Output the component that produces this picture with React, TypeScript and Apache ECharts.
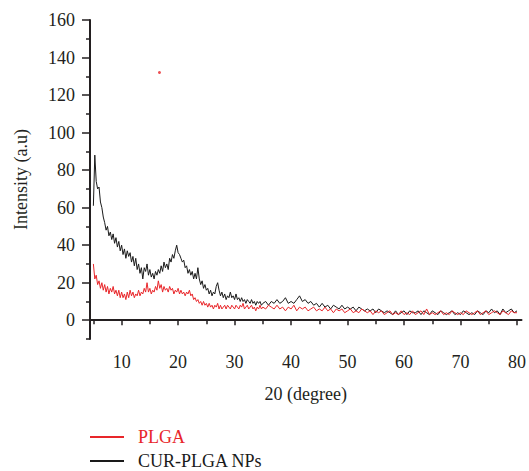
import React, { useEffect, useRef } from "react";
import * as echarts from "echarts";

// 2θ sampling: fine grid 5–35 (step 0.25), coarse grid 35.5–80 (step 0.5)
const startA = 5;
const stepA = 0.25;
const startB = 35.5;
const stepB = 0.5;

const curA = [
  61, 88, 74, 70, 71, 63, 60, 55, 52, 48, 50, 45, 47, 43, 46, 41, 44, 39, 42, 37,
  40, 35, 38, 33, 37, 34, 36, 31, 34, 29, 33, 27, 30, 25, 28, 22, 28, 26, 30, 24,
  27, 23, 25, 22, 26, 24, 27, 25, 29, 26, 31, 28, 30, 27, 33, 31, 35, 33, 37, 40,
  36, 35, 33, 31, 32, 28, 29, 25, 27, 24, 26, 22, 25, 22, 28, 22, 19, 21, 17, 19,
  16, 17, 14, 16, 13, 15, 14, 18, 20, 16, 13, 15, 12, 14, 11, 13, 12, 15, 12, 13,
  11, 14, 11, 12, 10, 12, 10, 11, 9, 11, 10, 9, 11, 9, 10, 8, 10, 9, 10, 8,
  9,
];
const curB = [
  10, 8, 10, 9, 11, 9, 10, 12, 9, 10,
  9, 11, 13, 10, 11, 9, 10, 8, 9, 7,
  9, 7, 8, 6, 8, 7, 6, 8, 6, 7,
  6, 7, 5, 7, 6, 5, 6, 5, 6, 4,
  6, 5, 4, 5, 4, 3, 5, 3, 4, 5,
  3, 5, 4, 4, 5, 3, 5, 4, 3, 5,
  4, 3, 5, 4, 3, 4, 5, 3, 4, 3,
  5, 4, 3, 4, 3, 5, 4, 3, 5, 4,
  6, 4, 5, 3, 6, 4, 5, 6, 4, 5,
];
const plgaA = [
  30, 22, 24, 19, 21, 17, 20, 16, 19, 15, 18, 14, 17, 15, 18, 14, 16, 13, 16, 12,
  15, 12, 14, 11, 15, 12, 16, 13, 15, 12, 14, 13, 16, 13, 15, 14, 17, 15, 20, 15,
  17, 14, 16, 15, 18, 16, 21, 17, 19, 15, 18, 16, 17, 15, 18, 16, 17, 14, 16, 15,
  17, 14, 16, 14, 15, 13, 15, 14, 16, 13, 14, 11, 12, 10, 11, 9, 10, 8, 10, 8,
  9, 7, 9, 7, 8, 6, 8, 7, 9, 6, 8, 6, 7, 8, 6, 8, 7, 6, 8, 7,
  6, 8, 7, 6, 8, 7, 9, 6, 7, 8, 6, 7, 8, 6, 7, 5, 7, 6, 8, 6,
  7,
];
const plgaB = [
  6, 8, 7, 6, 8, 6, 7, 5, 7, 6,
  8, 5, 7, 6, 7, 5, 6, 7, 5, 6,
  5, 7, 5, 6, 4, 6, 5, 6, 4, 5,
  6, 4, 5, 4, 6, 5, 4, 5, 3, 5,
  4, 5, 3, 4, 5, 3, 4, 3, 5, 3,
  4, 3, 5, 3, 4, 5, 3, 6, 3, 4,
  3, 4, 5, 3, 4, 3, 5, 4, 3, 4,
  3, 5, 4, 3, 4, 5, 3, 4, 5, 3,
  4, 5, 4, 3, 5, 4, 3, 5, 4, 4,
];
const strayPoint = [[16.7, 132]];

const xMajor = [10, 20, 30, 40, 50, 60, 70, 80];
const xMinor = [5, 15, 25, 35, 45, 55, 65, 75];
const yMajor = [0, 20, 40, 60, 80, 100, 120, 140, 160];
const yMinor = [-10, 10, 30, 50, 70, 90, 110, 130, 150];

const RED = "#e8262a";
const BLACK = "#1a1a1a";
const AXIS = "#231f20";
const FONT = "'Liberation Serif', 'Times New Roman', serif";

function toPairs(a: number[], b: number[]) {
  return [
    ...a.map((v, i) => [startA + i * stepA, v]),
    ...b.map((v, i) => [startB + i * stepB, v]),
  ];
}

function legendFor(name: string, color: string, top: number) {
  return {
    orient: "horizontal",
    left: 85,
    top,
    icon: "rect",
    itemWidth: 34,
    itemHeight: 2,
    selectedMode: false,
    textStyle: { fontFamily: FONT, fontSize: 18, color, padding: [0, 0, 0, 9] },
    data: [{ name }],
  };
}

export default function App() {
  const ref = useRef<HTMLDivElement>(null);
  useEffect(() => {
    if (!ref.current) return;
    const chart = echarts.init(ref.current, null, { renderer: "svg" });
    const axisLine = { show: true, lineStyle: { color: AXIS, width: 2 } };
    chart.setOption({
      animation: false,
      backgroundColor: "#ffffff",
      textStyle: { fontFamily: FONT },
      grid: { left: 90, right: 6, top: 20, bottom: 132, containLabel: false },
      legend: [legendFor("PLGA", RED, 423), legendFor("CUR-PLGA NPs", BLACK, 447)],
      xAxis: [
        {
          type: "value",
          min: 4.4,
          max: 80.8,
          name: "20 (degree)",
          nameLocation: "middle",
          nameGap: 46,
          nameTextStyle: { fontFamily: FONT, fontSize: 18, color: AXIS },
          axisLine,
          axisTick: { show: true, customValues: xMajor, length: 5, lineStyle: { color: AXIS, width: 1.5 } },
          axisLabel: { customValues: xMajor, margin: 14, fontFamily: FONT, fontSize: 18, color: AXIS },
          splitLine: { show: false },
        },
        {
          type: "value",
          min: 4.4,
          max: 80.8,
          position: "bottom",
          axisLine: { show: false },
          axisTick: { show: true, customValues: xMinor, length: 4, lineStyle: { color: AXIS, width: 1.5 } },
          axisLabel: { show: false },
          splitLine: { show: false },
        },
      ],
      yAxis: [
        {
          type: "value",
          min: -10,
          max: 160,
          name: "Intensity (a.u)",
          nameLocation: "middle",
          nameGap: 60,
          nameTextStyle: { fontFamily: FONT, fontSize: 18, color: AXIS },
          axisLine,
          axisTick: { show: true, customValues: yMajor, length: 8, lineStyle: { color: AXIS, width: 1.5 } },
          axisLabel: { customValues: yMajor, margin: 15, fontFamily: FONT, fontSize: 18, color: AXIS },
          splitLine: { show: false },
        },
        {
          type: "value",
          min: -10,
          max: 160,
          position: "left",
          axisLine: { show: false },
          axisTick: { show: true, customValues: yMinor, length: 4, lineStyle: { color: AXIS, width: 1.5 } },
          axisLabel: { show: false },
          splitLine: { show: false },
        },
      ],
      series: [
        {
          name: "CUR-PLGA NPs",
          type: "line",
          data: toPairs(curA, curB),
          symbol: "none",
          lineStyle: { color: BLACK, width: 1 },
          itemStyle: { color: BLACK },
        },
        {
          name: "PLGA",
          type: "line",
          data: toPairs(plgaA, plgaB),
          symbol: "none",
          lineStyle: { color: RED, width: 1 },
          itemStyle: { color: RED },
        },
        {
          name: "stray",
          type: "scatter",
          data: strayPoint,
          symbolSize: 3,
          itemStyle: { color: RED },
        },
      ],
    });
    return () => chart.dispose();
  }, []);
  return (
    <div
      ref={ref}
      style={{ position: "fixed", left: 0, top: 0, width: 529, height: 471 }}
    />
  );
}
